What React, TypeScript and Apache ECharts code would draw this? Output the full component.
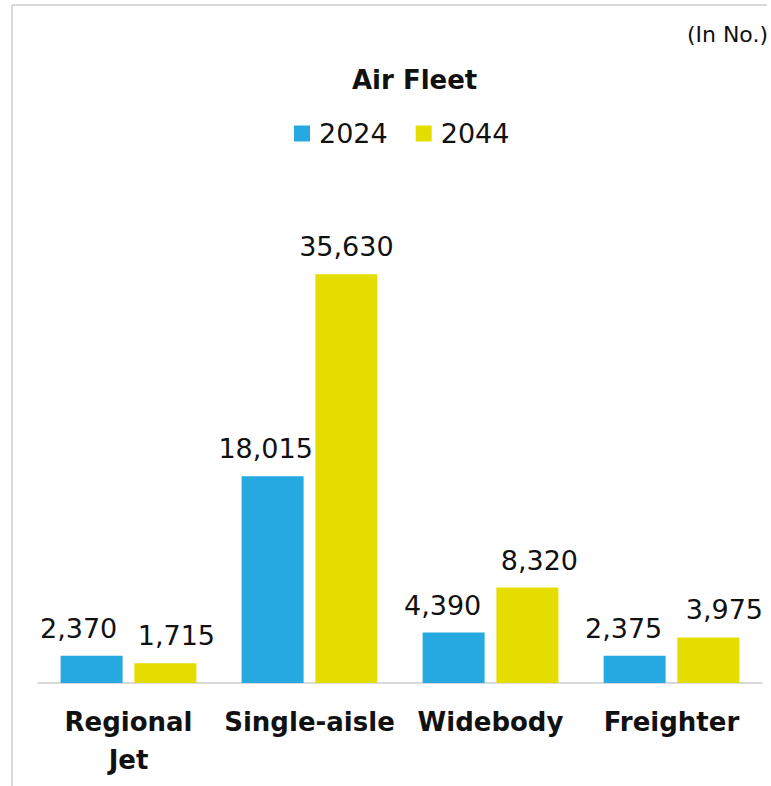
import React, { useEffect, useRef } from "react";
import * as echarts from "echarts";

const categories = ["Regional\nJet", "Single-aisle", "Widebody", "Freighter"];
const seriesNames = ["2024", "2044"];
const values2024 = [2370, 18015, 4390, 2375];
const values2044 = [1715, 35630, 8320, 3975];
const colors = ["#26A9E0", "#E6DD00"];
// horizontal nudges of the value labels (px), as in the reference layout
const labelShift2024 = [-13, -7, -11, -11];
const labelShift2044 = [11, 0, 12, 16];
const FONT = "DejaVu Sans";

export default function App() {
  const ref = useRef<HTMLDivElement>(null);
  useEffect(() => {
    if (!ref.current) return;
    const chart = echarts.init(ref.current, undefined, { renderer: "svg" });
    const fmt = (p: any) => Number(p.value).toLocaleString("en-US");
    const labelBase = {
      show: true,
      position: "top",
      distance: 14,
      formatter: fmt,
      fontFamily: FONT,
      fontSize: 27,
      color: "#111",
    };
    chart.setOption({
      animation: false,
      backgroundColor: "#ffffff",
      textStyle: { fontFamily: FONT },
      title: [
        {
          text: "Air Fleet",
          left: 347,
          top: 62,
          textStyle: { fontFamily: FONT, fontSize: 26, fontWeight: "bold", color: "#111" },
        },
        {
          text: "(In No.)",
          right: -2,
          top: 18,
          textStyle: { fontFamily: FONT, fontSize: 22, fontWeight: "normal", color: "#111" },
        },
      ],
      legend: {
        data: seriesNames,
        left: 289,
        top: 115,
        itemWidth: 16,
        itemHeight: 16,
        itemGap: 28,
        icon: "rect",
        textStyle: { fontFamily: FONT, fontSize: 27, color: "#111", padding: [0, 0, 0, 4] },
      },
      grid: { left: 38, right: 9, top: 224, bottom: 103, containLabel: false },
      xAxis: {
        type: "category",
        data: categories,
        axisLine: { show: true, lineStyle: { color: "#d9d9d9", width: 2 } },
        axisTick: { show: false },
        axisLabel: {
          interval: 0,
          margin: 20,
          fontFamily: FONT,
          fontSize: 26,
          fontWeight: "bold",
          color: "#111",
          lineHeight: 38,
        },
      },
      yAxis: { type: "value", min: 0, max: 40000, show: false },
      graphic: [
        { type: "line", shape: { x1: 12, y1: 5, x2: 767, y2: 5 }, style: { stroke: "#d9d9d9", lineWidth: 2 } },
        { type: "line", shape: { x1: 12, y1: 5, x2: 12, y2: 786 }, style: { stroke: "#d9d9d9", lineWidth: 2 } },
      ],
      series: [
        {
          name: seriesNames[0],
          type: "bar",
          data: values2024.map((v, i) => ({ value: v, label: { offset: [labelShift2024[i], 0] } })),
          barWidth: 62,
          barGap: "19%",
          itemStyle: { color: colors[0] },
          label: labelBase,
        },
        {
          name: seriesNames[1],
          type: "bar",
          data: values2044.map((v, i) => ({ value: v, label: { offset: [labelShift2044[i], 0] } })),
          barWidth: 62,
          barGap: "19%",
          itemStyle: { color: colors[1] },
          label: labelBase,
        },
      ],
    });
    return () => chart.dispose();
  }, []);
  return <div ref={ref} style={{ position: "absolute", left: 0, top: 0, width: 771, height: 786 }} />;
}
